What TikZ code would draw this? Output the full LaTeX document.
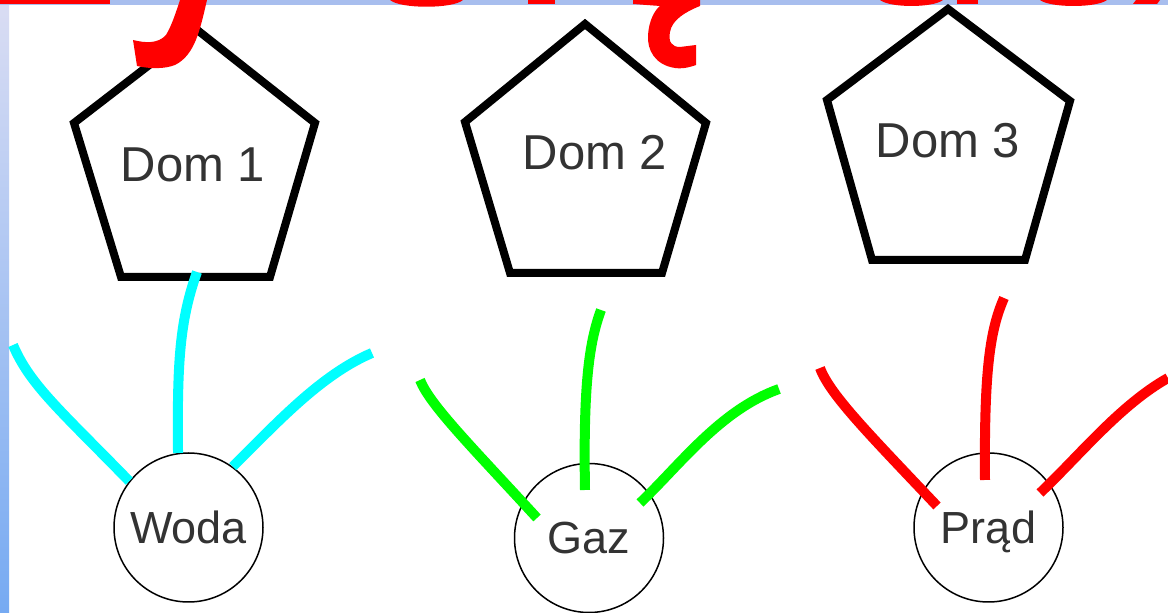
\documentclass[tikz,border=0pt]{standalone}
\usepackage{fontspec}
\setmainfont{Liberation Sans}
\usetikzlibrary{calc}
\definecolor{ink}{HTML}{333333}
\definecolor{pipecyan}{HTML}{00FFFF}
\definecolor{pipegreen}{HTML}{00FF00}
\definecolor{pipered}{HTML}{FF0000}
\definecolor{stripTop}{HTML}{DADDF3}
\definecolor{stripBot}{HTML}{76AAF2}
\definecolor{band}{HTML}{A8BEEE}
\tikzset{
  house/.style={draw=black, line width=4pt, line join=miter},
  houselabel/.style={anchor=base, font=\fontsize{24.5}{29}\selectfont, text=ink},
  utility/.style={circle, draw=black, line width=0.75pt, minimum size=74.5pt,
    inner sep=0pt, text height=16pt, text depth=0pt,
    font=\fontsize{22.5}{26}\selectfont, text=ink},
  pipe/.style={line width=5pt},
  titleglyph/.style={fill=pipered, draw=none},
}
\begin{document}
\begin{tikzpicture}[x=0.5pt, y=-0.5pt]
\useasboundingbox (0,0) rectangle (1168,613);
% page background with the slide's blue edges
\fill[white] (0,0) rectangle (1168,613);
\shade[top color=stripTop, bottom color=stripBot] (0,0) rectangle (9,613);
\fill[band] (0,0) rectangle (1168,5);

% houses
\draw[house] (196,29) -- (315,123) -- (270,277) -- (121,277) -- (74,123) -- cycle;
\draw[house] (585,24) -- (706,123) -- (662,273) -- (510,273) -- (465,122) -- cycle;
\draw[house] (948,9) -- (1070,101) -- (1025,260) -- (872,260) -- (827,100) -- cycle;
\node[houselabel] (dom1) at (193,182) {Dom 1};
\node[houselabel] (dom2) at (595,170) {Dom 2};
\node[houselabel] (dom3) at (948,158) {Dom 3};
\coordinate (door1) at (197,272);

% utilities
\node[utility] (woda) at (188.5,527.5) {Woda};
\node[utility] (gaz)  at (589,538) {Gaz};
\node[utility] (prad) at (988.5,527.5) {Prąd};

% loose pipe ends
\coordinate (w1) at (13,345);
\coordinate (w3) at (372,353);
\coordinate (g1) at (420,380);
\coordinate (g2) at (601,310);
\coordinate (g3) at (779,389);
\coordinate (g1e) at (537,518);
\coordinate (g2e) at (585,490);
\coordinate (g3e) at (640,503);
\coordinate (p1) at (820,368);
\coordinate (p2) at (1004,298);
\coordinate (p3) at (1168,378);
\coordinate (p1e) at (937,506);
\coordinate (p2e) at (985,480);
\coordinate (p3e) at (1040,493);

% water
\draw[pipe, pipecyan] (w1) .. controls (30,385) and (60,410) .. (woda.142);
\draw[pipe, pipecyan] (door1) .. controls (180,320) and (177,360) .. (woda.98);
\draw[pipe, pipecyan] (woda.54) .. controls (275,425) and (320,375) .. (w3);
% gas
\draw[pipe, pipegreen] (g1) .. controls (430,405) and (470,445) .. (g1e);
\draw[pipe, pipegreen] (g2) .. controls (590,340) and (583,380) .. (g2e);
\draw[pipe, pipegreen] (g3e) .. controls (680,465) and (720,410) .. (g3);
% power
\draw[pipe, pipered] (p1) .. controls (830,395) and (870,435) .. (p1e);
\draw[pipe, pipered] (p2) .. controls (990,330) and (984,370) .. (p2e);
\draw[pipe, pipered] (p3e) .. controls (1080,455) and (1120,405) .. (p3);

% lower edge of the title line, lying over the roofs
\fill[titleglyph] (0,0) rectangle (110,4);
\fill[titleglyph] (180,0) -- (207,0) .. controls (200,30) and (195,55) .. (175,65)
  .. controls (165,69) and (150,69) .. (137,66) -- (133,40)
  .. controls (145,43) and (158,44) .. (166,35) .. controls (172,25) and (176,12) .. (180,0) -- cycle;
\fill[titleglyph] (390,0) .. controls (400,9) and (453,9) .. (463,0) -- cycle;
\fill[titleglyph] (528,0) rectangle (555,4);
\fill[titleglyph] (633,0) -- (700,0) -- (700,6) .. controls (685,12) and (672,20) .. (670,32)
  .. controls (668,42) and (672,47) .. (680,47) -- (696,45) -- (696,65)
  .. controls (688,68) and (680,69) .. (675,68) .. controls (655,65) and (647,50) .. (648,35)
  .. controls (649,20) and (655,10) .. (660,6) -- (633,4) -- cycle;
\fill[titleglyph] (880,0) .. controls (890,8) and (933,8) .. (943,0) -- cycle;
\fill[titleglyph] (957,0) rectangle (978,4);
\fill[titleglyph] (1040,0) .. controls (1050,8) and (1097,8) .. (1107,0) -- cycle;
\fill[titleglyph] (1136,0) -- (1160,0) -- (1157,4) -- (1133,4) -- cycle;
\end{tikzpicture}
\end{document}
